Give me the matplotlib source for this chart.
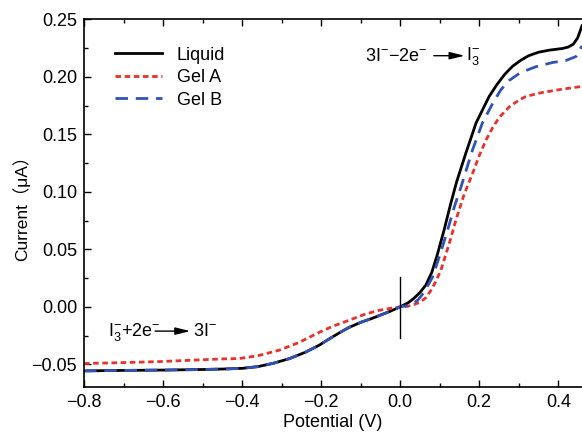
import matplotlib
matplotlib.use("Agg")
import matplotlib.pyplot as plt
from matplotlib.ticker import MultipleLocator

plt.rcParams["font.family"] = ["Liberation Sans", "Noto Sans CJK SC", "DejaVu Sans"]
plt.rcParams["mathtext.fontset"] = "custom"
plt.rcParams["mathtext.rm"] = "Liberation Sans"
plt.rcParams["mathtext.it"] = "Liberation Sans:italic"

# data (potential in V, current in uA)
liquid_v = [-0.80, -0.70, -0.60, -0.50, -0.45, -0.40, -0.36, -0.32, -0.28, -0.24,
            -0.205, -0.18, -0.154, -0.13, -0.10, -0.075, -0.05, -0.025, 0.00, 0.02,
            0.035, 0.05, 0.065, 0.08, 0.094, 0.111, 0.128, 0.143, 0.166, 0.192,
            0.225, 0.245, 0.265, 0.285, 0.305, 0.325, 0.35, 0.377, 0.411, 0.425,
            0.438, 0.449, 0.46]
liquid_i = [-0.0557, -0.0553, -0.055, -0.0545, -0.0541, -0.0535, -0.052, -0.049, -0.045, -0.0395,
            -0.0334, -0.028, -0.0226, -0.018, -0.0135, -0.0105, -0.0072, -0.0038, 0.000, 0.0035,
            0.0075, 0.0125, 0.019, 0.030, 0.0455, 0.0668, 0.090, 0.109, 0.1336, 0.160,
            0.183, 0.1935, 0.2025, 0.2095, 0.2145, 0.2185, 0.2215, 0.2233, 0.2248, 0.226,
            0.2285, 0.234, 0.2445]

gel_a_v = [-0.80, -0.70, -0.60, -0.50, -0.45, -0.408, -0.36, -0.306, -0.256, -0.23,
           -0.205, -0.17, -0.129, -0.09, -0.053, -0.02, 0.00, 0.019, 0.035, 0.052,
           0.065, 0.078, 0.09, 0.103, 0.124, 0.141, 0.162, 0.183, 0.20, 0.217,
           0.234, 0.251, 0.276, 0.301, 0.318, 0.352, 0.403, 0.46]
gel_a_i = [-0.0493, -0.0485, -0.0475, -0.046, -0.0453, -0.045, -0.0425, -0.0377, -0.031, -0.0265,
           -0.0222, -0.0168, -0.0116, -0.0065, -0.003, -0.001, 0.000, 0.0005, 0.002, 0.0044,
           0.008, 0.0145, 0.022, 0.032, 0.055, 0.0755, 0.098, 0.116, 0.1315, 0.145,
           0.156, 0.165, 0.174, 0.180, 0.183, 0.186, 0.189, 0.1918]

gel_b_v = [-0.80, -0.70, -0.60, -0.50, -0.45, -0.40, -0.36, -0.32, -0.28, -0.24,
           -0.205, -0.18, -0.154, -0.13, -0.10, -0.075, -0.05, -0.025, 0.00, 0.027,
           0.045, 0.061, 0.082, 0.099, 0.120, 0.137, 0.154, 0.183, 0.208, 0.234,
           0.255, 0.276, 0.301, 0.325, 0.344, 0.386, 0.419, 0.445, 0.46]
gel_b_i = [-0.0557, -0.0553, -0.055, -0.0545, -0.0541, -0.0535, -0.052, -0.049, -0.045, -0.0395,
           -0.0334, -0.028, -0.0226, -0.018, -0.0135, -0.0105, -0.0072, -0.0038, 0.000, 0.0015,
           0.006, 0.013, 0.026, 0.0436, 0.0668, 0.087, 0.1045, 0.1365, 0.160, 0.177,
           0.189, 0.197, 0.203, 0.2065, 0.209, 0.2126, 0.2143, 0.2178, 0.227]

fig = plt.figure(figsize=(5.82, 4.33), dpi=100)
ax = fig.add_axes([0.1443, 0.1055, 0.8557, 0.8495])

ax.plot(liquid_v, liquid_i, color="black", lw=2.0, label="Liquid")
ax.plot(gel_a_v, gel_a_i, color="#e8312a", lw=2.0, dashes=(2.0, 1.3), label="Gel A")
ax.plot(gel_b_v, gel_b_i, color="#3153b5", lw=2.0, dashes=(4.5, 2.8), label="Gel B")

ax.plot([0, 0], [-0.0267, 0.026], color="black", lw=1.0)

arrow = dict(arrowstyle="-|>,head_length=0.9,head_width=0.22", color="black",
             lw=1.0, mutation_scale=10, shrinkA=0, shrinkB=0)

ax.text(-0.088, 0.2178, r"3I$^{-}$$-$2e$^{-}$", fontsize=13, va="center", ha="left")
ax.annotate("", xy=(0.163, 0.2185), xytext=(0.085, 0.2185), arrowprops=arrow)
ax.text(0.167, 0.2178, r"I$_{3}^{-}$", fontsize=13, va="center", ha="left")

ax.text(-0.74, -0.0218, r"I$_{3}^{-}$+2e$^{-}$", fontsize=13, va="center", ha="left")
ax.annotate("", xy=(-0.531, -0.0211), xytext=(-0.62, -0.0211), arrowprops=arrow)
ax.text(-0.525, -0.0218, r"3I$^{-}$", fontsize=13, va="center", ha="left")

ax.set_xlim(-0.8, 0.46)
ax.set_ylim(-0.07, 0.25)
ax.xaxis.set_major_locator(MultipleLocator(0.2))
ax.xaxis.set_minor_locator(MultipleLocator(0.1))
ax.yaxis.set_major_locator(MultipleLocator(0.05))
ax.yaxis.set_minor_locator(MultipleLocator(0.025))
ax.xaxis.set_major_formatter(plt.FuncFormatter(lambda v, p: f"{v:.1f}".replace("-", "−")))
ax.yaxis.set_major_formatter(plt.FuncFormatter(lambda v, p: f"{v:.2f}".replace("-", "−")))
ax.tick_params(which="both", direction="in", top=True, right=False, labelsize=13, width=1.0)
ax.tick_params(which="major", length=5, pad=5)
ax.tick_params(which="minor", length=3)
ax.spines["right"].set_visible(False)
for s in ["left", "bottom", "top"]:
    ax.spines[s].set_linewidth(1.2)

ax.set_xlabel("Potential (V)", fontsize=13, labelpad=2)
ax.set_ylabel("Current（μA）", fontsize=12.5, labelpad=1)

ax.legend(loc="upper left", bbox_to_anchor=(0.03, 0.97), frameon=False, fontsize=13,
          handlelength=2.6, labelspacing=0.3, handletextpad=0.8)

fig.savefig("out.png", dpi=100)
